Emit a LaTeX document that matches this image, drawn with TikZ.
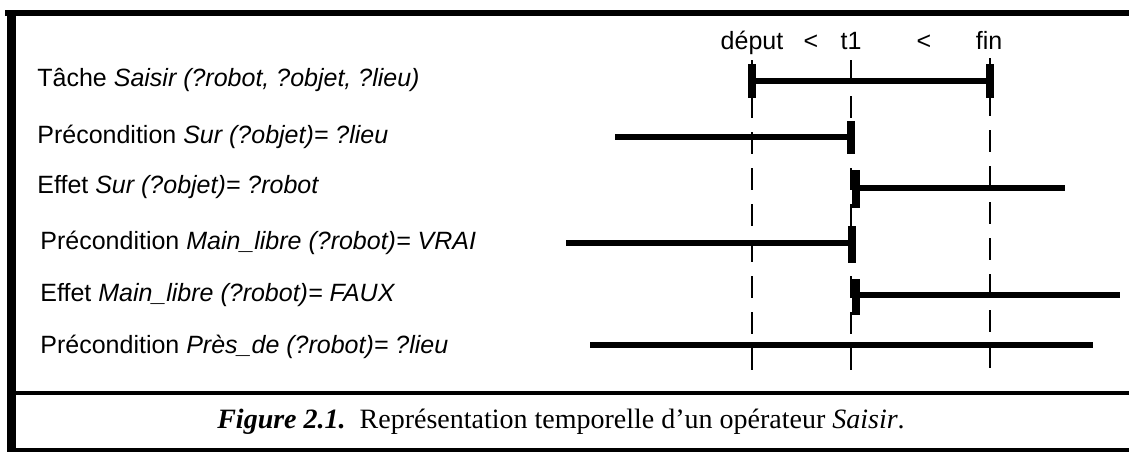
\documentclass[tikz,border=0pt]{standalone}
\usepackage{fontspec}
\setmainfont{Liberation Serif}
\setsansfont{Liberation Sans}
\usepackage{tikz}
\usetikzlibrary{calc}

\begin{document}
\begin{tikzpicture}[x=0.5pt,y=-0.5pt,
    etiq/.style={anchor=west,font=\sffamily\fontsize{12.5}{14}\selectfont,inner sep=0pt},
    temps/.style={anchor=base,font=\sffamily\fontsize{12.5}{14}\selectfont,inner sep=0pt},
    barre/.style={line width=3.4pt},
    borne/.style={line width=4.4pt},
    tiret/.style={line width=1pt,dash pattern=on 11pt off 7pt},
    cadre/.style={line width=2pt}]
            \useasboundingbox (0,0) rectangle (1129,452);

            % cadre
            \draw[line width=2.8pt] (5,13)--(1129,13);
            \draw[line width=4.5pt] (11,10)--(11,452);
            \draw[cadre] (11,393)--(1129,393);
            \draw[cadre] (11,450)--(1129,450);

            % instants
            \coordinate (debut) at (752,60);
            \coordinate (t1) at (851,60);
            \coordinate (fin) at (990,58);
            \coordinate (bas) at (0,380);
            \node[temps] (l-debut) at (752,49){déput};
            \node[temps] (l-inf1) at (811,49){<};
            \node[temps] (l-t1) at (851,49){t1};
            \node[temps] (l-inf2) at (924,49){<};
            \node[temps] (l-fin) at (989,49){fin};
            \draw[tiret] (debut)--(debut|-bas);
            \draw[tiret] (t1)--(t1|-bas);
            \draw[tiret] (fin)--(fin|-bas);

            % lignes
            \node[etiq] (tache) at (37,80){Tâche \textit{Saisir (?robot, ?objet, ?lieu)}};
            \node[etiq] (pre-sur) at (37,137){Précondition \textit{Sur (?objet)= ?lieu}};
            \node[etiq] (eff-sur) at (37,187){Effet \textit{Sur (?objet)= ?robot}};
            \node[etiq] (pre-main) at (40,243){Précondition \textit{Main\_libre (?robot)= VRAI}};
            \node[etiq] (eff-main) at (40,295){Effet \textit{Main\_libre (?robot)= FAUX}};
            \node[etiq] (pre-pres) at (40,347){Précondition \textit{Près\_de (?robot)= ?lieu}};

            % intervalles
            \draw[barre] (752,81)--(990,81);
            \draw[borne] (752,64)--(752,98);
            \draw[borne] (990,64)--(990,98);

            \draw[barre] (615,137)--(851,137);
            \draw[borne] (851,121)--(851,154);

            \draw[barre] (856,188)--(1065,188);
            \draw[borne] (856,170)--(856,208);

            \draw[barre] (566,243)--(852,243);
            \draw[borne] (852,226)--(852,263);

            \draw[barre] (856,295)--(1120,295);
            \draw[borne] (856,279)--(856,315);

            \draw[barre] (590,345)--(1093,345);

            % legende
            \node[font=\fontsize{14}{16}\selectfont,inner sep=0pt] (legende) at (561,422){\textbf{\textit{Figure 2.1.}}\ \ Représentation temporelle d'un opérateur \textit{Saisir}.};
        \end{tikzpicture}
\end{document}
